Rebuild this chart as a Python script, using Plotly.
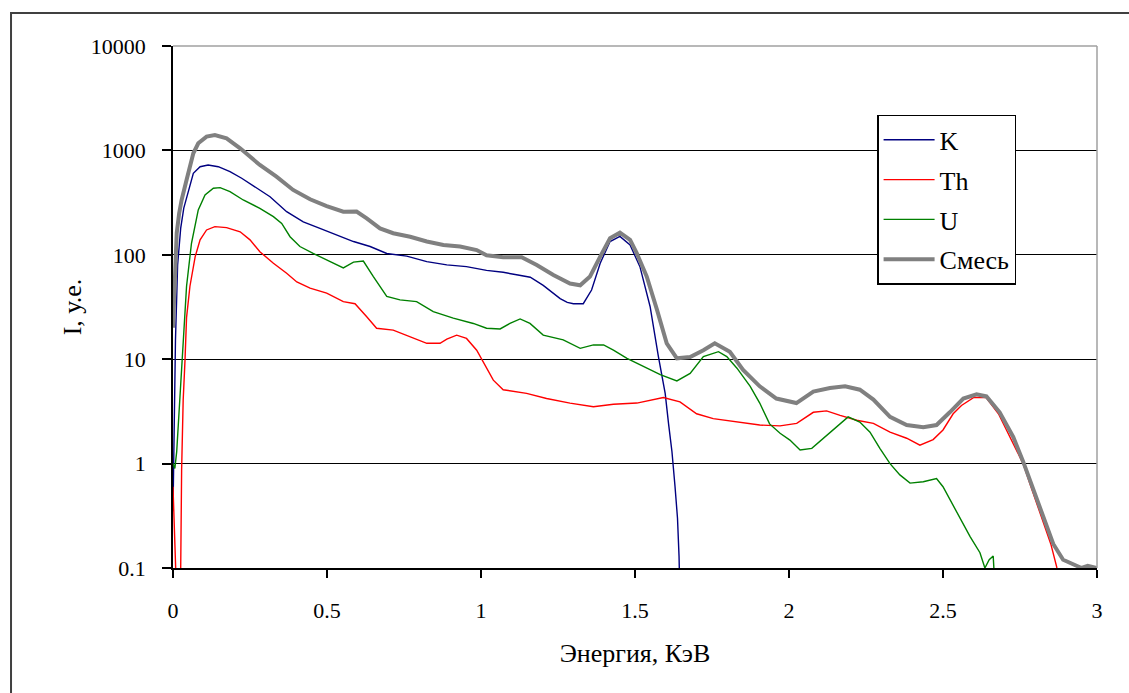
import plotly.graph_objects as go

# ---- data ----
E_K = [0, 0.004, 0.008, 0.015, 0.025, 0.035, 0.044, 0.066, 0.088, 0.114, 0.147, 0.185, 0.223, 0.261,
       0.315, 0.369, 0.423, 0.477, 0.532, 0.586, 0.64, 0.694, 0.759, 0.824, 0.889, 0.953, 1.018, 1.072,
       1.12, 1.16, 1.202, 1.23, 1.257, 1.28, 1.3, 1.332, 1.359, 1.387, 1.419, 1.451, 1.484, 1.516, 1.549,
       1.576, 1.587, 1.598, 1.609, 1.62, 1.63, 1.638, 1.643, 1.646]
K = [0.35, 2, 15, 80, 180, 280, 348, 603, 698, 725, 698, 625, 541, 456,
     360, 259, 207, 179, 155, 134, 120, 103, 97, 86, 80, 77, 71, 68,
     64, 61, 51, 44, 38, 35, 34, 34, 46, 83, 134, 150, 124, 77, 32,
     10.6, 7.3, 4.7, 2.4, 1.3, 0.6, 0.3, 0.13, 0.05]

E_TH = [0, 0.004, 0.008, 0.012, 0.02, 0.025, 0.028, 0.033, 0.039, 0.044, 0.055, 0.072, 0.088, 0.109,
        0.136, 0.174, 0.218, 0.25, 0.282, 0.326, 0.369, 0.402, 0.445, 0.499, 0.553, 0.591, 0.629, 0.661,
        0.715, 0.77, 0.824, 0.867, 0.889, 0.921, 0.953, 0.986, 1.007, 1.04, 1.072, 1.148, 1.213, 1.289,
        1.365, 1.43, 1.506, 1.592, 1.646, 1.7, 1.754, 1.829, 1.905, 1.971, 2.025, 2.079, 2.122, 2.166,
        2.22, 2.274, 2.328, 2.382, 2.425, 2.468, 2.5, 2.533, 2.56, 2.6, 2.64, 2.68, 2.72, 2.76, 2.79,
        2.82, 2.85, 2.87, 2.88]
TH = [0.6, 0.3, 0.12, 0.05, 0.05, 0.1, 0.87, 4, 9.8, 25, 50, 96, 139, 173,
      186, 182, 166, 139, 107, 83, 66.5, 55, 48, 43, 35.6, 34, 25.5, 19.8,
      19, 16.4, 14.2, 14.2, 15.6, 17, 15.8, 12.2, 9.5, 6.3, 5.1, 4.7, 4.2, 3.8,
      3.5, 3.7, 3.8, 4.3, 3.9, 3.0, 2.7, 2.5, 2.34, 2.3, 2.43, 3.1, 3.2, 2.9,
      2.6, 2.43, 2.0, 1.75, 1.5, 1.7, 2.1, 3.0, 3.6, 4.3, 4.3, 3.0, 1.75, 1.0, 0.55,
      0.3, 0.17, 0.1, 0.08]

E_U = [0, 0.006, 0.012, 0.017, 0.023, 0.028, 0.034, 0.039, 0.044, 0.06, 0.082, 0.104, 0.131, 0.153,
       0.185, 0.228, 0.282, 0.326, 0.353, 0.38, 0.412, 0.455, 0.499, 0.553, 0.586, 0.618, 0.65, 0.694,
       0.737, 0.791, 0.845, 0.91, 0.975, 1.018, 1.062, 1.094, 1.127, 1.159, 1.202, 1.267, 1.322, 1.365,
       1.398, 1.43, 1.474, 1.528, 1.582, 1.636, 1.679, 1.722, 1.771, 1.798, 1.831, 1.874, 1.905, 1.937,
       1.971, 2.003, 2.036, 2.074, 2.111, 2.155, 2.192, 2.23, 2.263, 2.295, 2.328, 2.36, 2.393, 2.436,
       2.479, 2.5, 2.523, 2.555, 2.588, 2.62, 2.636, 2.65, 2.663, 2.667]
U = [1.0, 0.9, 1.3, 2.3, 4.5, 8.5, 17.7, 30, 50, 129, 269, 374, 434, 440,
     402, 335, 279, 232, 200, 149, 120, 103, 89, 75, 85, 87, 62, 40,
     37, 35.6, 28.5, 24.7, 22, 19.8, 19.5, 22, 24.3, 22, 17, 15.3, 12.7, 13.7,
     13.7, 12.2, 10.2, 8.5, 7.1, 6.2, 7.3, 10.6, 11.8, 10.6, 8.2, 5.5, 3.8, 2.4,
     1.95, 1.68, 1.35, 1.4, 1.75, 2.26, 2.8, 2.5, 2.0, 1.4, 1.0, 0.78, 0.65, 0.67,
     0.72, 0.6, 0.45, 0.31, 0.2, 0.14, 0.1, 0.12, 0.13, 0.08]

E_MIX = [0, 0.003, 0.0065, 0.012, 0.02, 0.028, 0.044, 0.066, 0.082, 0.109, 0.136, 0.174, 0.218, 0.244,
         0.282, 0.336, 0.39, 0.445, 0.499, 0.553, 0.596, 0.629, 0.672, 0.715, 0.77, 0.824, 0.878, 0.932,
         0.986, 1.018, 1.072, 1.132, 1.181, 1.235, 1.289, 1.322, 1.354, 1.387, 1.419, 1.451, 1.484, 1.506,
         1.538, 1.571, 1.603, 1.636, 1.679, 1.722, 1.759, 1.808, 1.851, 1.905, 1.959, 2.024, 2.079, 2.133,
         2.182, 2.23, 2.274, 2.328, 2.382, 2.436, 2.479, 2.522, 2.566, 2.609, 2.641, 2.684, 2.728, 2.76,
         2.793, 2.825, 2.858, 2.89, 2.92, 2.95, 2.97, 3.0]
MIX = [20, 35, 70, 161, 250, 335, 520, 938, 1170, 1354, 1405, 1306, 1047, 903,
       725, 560, 418, 340, 293, 259, 260, 223, 179, 161, 149, 134, 124, 120,
       111, 99, 95, 95, 80, 64, 53, 51, 62, 96, 144, 163, 139, 103,
       62, 30, 14.2, 10.2, 10.5, 12.2, 14.2, 11.8, 7.9, 5.5, 4.2, 3.8, 4.9, 5.3,
       5.5, 5.1, 4.1, 2.8, 2.34, 2.23, 2.34, 3.1, 4.2, 4.6, 4.4, 3.1, 1.8, 1.05,
       0.56, 0.31, 0.17, 0.12, 0.11, 0.1, 0.105, 0.1]

SERIES_NAMES = ["K", "Th", "U", "Смесь"]
X_TICKS = [0, 0.5, 1, 1.5, 2, 2.5, 3]
X_TICK_TEXT = ["0", "0.5", "1", "1.5", "2", "2.5", "3"]
Y_TICKS = [0.1, 1, 10, 100, 1000, 10000]
Y_TICK_TEXT = ["0.1", "1", "10", "100", "1000", "10000"]

FONT = "Liberation Serif, Times New Roman, serif"

series = [
    (SERIES_NAMES[0], E_K, K, "#000080", 1.4),
    (SERIES_NAMES[1], E_TH, TH, "#ff0000", 1.4),
    (SERIES_NAMES[2], E_U, U, "#008000", 1.4),
    (SERIES_NAMES[3], E_MIX, MIX, "#808080", 4),
]

fig = go.Figure()
for name, x, y, color, w in series:
    fig.add_trace(go.Scatter(x=x, y=y, mode="lines", name=name, legendgroup=name,
                             line=dict(color=color, width=w)))

fig.update_layout(
    width=1129, height=693,
    margin=dict(l=173, r=32, t=46, b=125),
    paper_bgcolor="white", plot_bgcolor="white",
    font=dict(family=FONT, size=22, color="black"),
    showlegend=True,
    legend=dict(x=0.762, y=0.868, xanchor="left", yanchor="top",
                bgcolor="white", bordercolor="black", borderwidth=1.5,
                font=dict(family=FONT, size=26, color="black"),
                tracegroupgap=3, itemwidth=51),
    xaxis=dict(range=[0, 3], tickvals=X_TICKS, ticktext=X_TICK_TEXT,
               showgrid=False, zeroline=False, showline=True, linecolor="black", linewidth=1.5,
               ticks="outside", ticklen=8, tickwidth=1.5, tickcolor="black",
               ticklabelstandoff=14,
               title=dict(text="Энергия, КэВ", font=dict(family=FONT, size=26), standoff=22)),
    yaxis=dict(type="log", range=[-1, 4], tickvals=Y_TICKS, ticktext=Y_TICK_TEXT,
               showgrid=True, gridcolor="black", gridwidth=1.3,
               zeroline=False, showline=True, linecolor="black", linewidth=1.5,
               ticks="outside", ticklen=9, tickwidth=1.5, tickcolor="black",
               ticklabelstandoff=12,
               title=dict(text="I, у.е.", font=dict(family=FONT, size=26), standoff=2)),
)

# plot-area border (grey top and right) and the outer chart frame
fig.add_shape(type="line", xref="paper", yref="paper", x0=0, x1=1, y0=1, y1=1,
              line=dict(color="#a0a0a0", width=1.5), layer="above")
fig.add_shape(type="line", xref="paper", yref="paper", x0=1, x1=1, y0=0, y1=1,
              line=dict(color="#a0a0a0", width=1.5), layer="above")
fig.add_shape(type="rect", xref="paper", yref="paper",
              x0=-0.1753, x1=1.06, y0=1.0632, y1=-0.26,
              line=dict(color="#404040", width=2), layer="below")

fig.write_html("out.html")
